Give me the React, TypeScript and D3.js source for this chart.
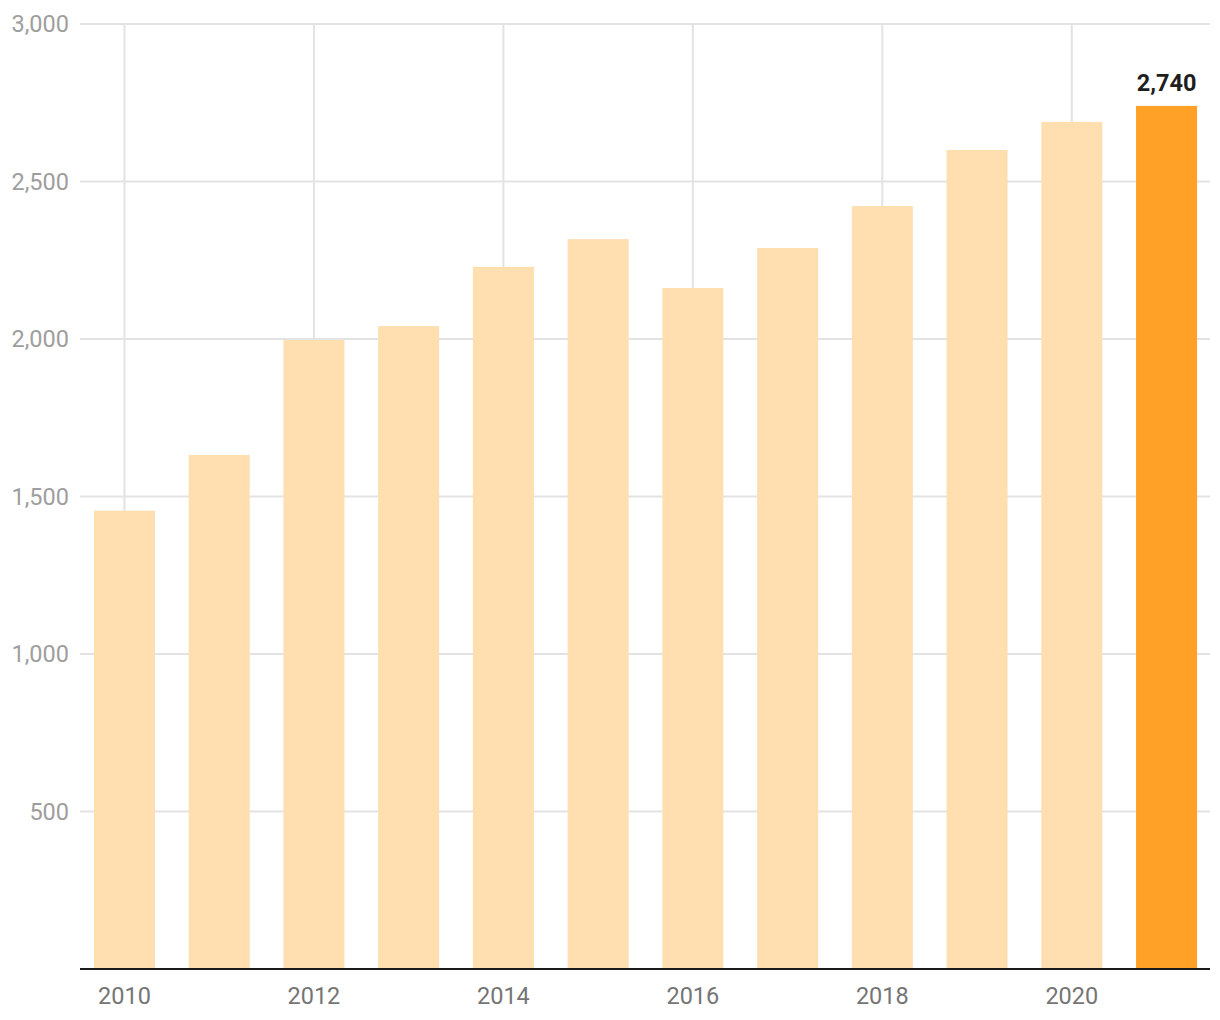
import React from "react";
import * as d3 from "d3";

const years = ["2010","2011","2012","2013","2014","2015","2016","2017","2018","2019","2020","2021"];
const values = [1455, 1632, 1997, 2041, 2229, 2317, 2162, 2289, 2422, 2600, 2689, 2740];
const yTicks = [500, 1000, 1500, 2000, 2500, 3000];
const xTickYears = ["2010","2012","2014","2016","2018","2020"];
const highlightYear = "2021";

const W = 1220, H = 1020;
const font = "Roboto, 'Noto Sans', sans-serif";

export default function App() {
  const x = d3.scaleBand<string>().domain(years).range([77.1, 1213.9]).paddingInner(0.356).paddingOuter(0.178);
  const y = d3.scaleLinear().domain([0, 3000]).range([969, 24]);
  const fmt = d3.format(",");
  const bw = x.bandwidth();
  return (
    <svg width={W} height={H} style={{ position: "absolute", left: 0, top: 0, background: "#fff" }}>
      {yTicks.map(t => (
        <g key={t}>
          <line x1={80} x2={1210} y1={y(t)} y2={y(t)} stroke="#e3e3e3" strokeWidth={2} />
          <text x={69} y={y(t)} dy="0.35em" textAnchor="end" fontFamily={font} fontSize={23.5} fill="#9e9e9e">{fmt(t)}</text>
        </g>
      ))}
      {xTickYears.map(yr => (
        <line key={yr} x1={x(yr)! + bw / 2} x2={x(yr)! + bw / 2} y1={y(3000)} y2={y(0)} stroke="#e3e3e3" strokeWidth={2} />
      ))}
      {years.map((yr, i) => (
        <rect key={yr} x={x(yr)} y={y(values[i])} width={bw} height={y(0) - y(values[i])}
          fill={yr === highlightYear ? "#FFA126" : "#FFDEB0"} />
      ))}
      {years.map((yr, i) => yr === highlightYear ? (
        <text key={yr} x={x(yr)! + bw / 2} y={y(values[i]) - 15} textAnchor="middle" fontFamily={font} fontSize={23.5} fontWeight="bold" fill="#1e1e1e">{fmt(values[i])}</text>
      ) : null)}
      <line x1={80} x2={1210} y1={y(0)} y2={y(0)} stroke="#1a1a1a" strokeWidth={2} />
      {xTickYears.map(yr => (
        <text key={yr} x={x(yr)! + bw / 2} y={1004} textAnchor="middle" fontFamily={font} fontSize={23.5} fill="#757575">{yr}</text>
      ))}
    </svg>
  );
}
